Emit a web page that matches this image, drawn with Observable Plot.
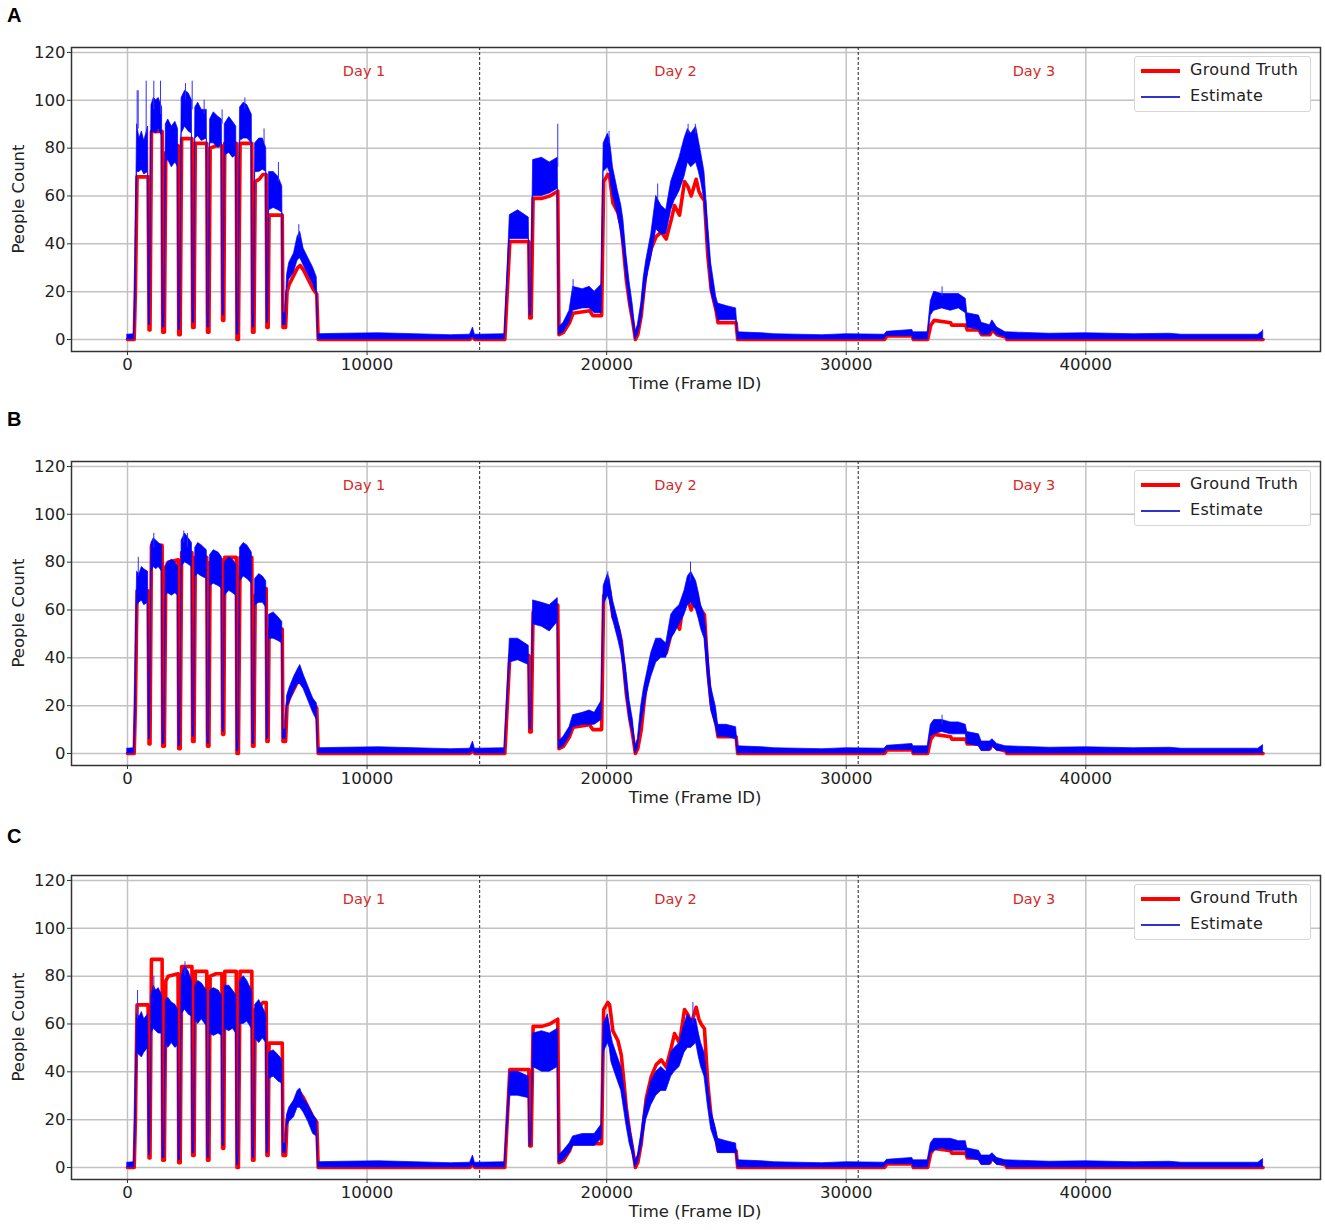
<!DOCTYPE html>
<html>
<head>
<meta charset="utf-8">
<script src="https://cdn.jsdelivr.net/npm/d3@7"></script>
<script src="https://cdn.jsdelivr.net/npm/@observablehq/plot@0.6"></script>
<style>
  body { margin: 0; background: #fff; }
  #page { position: relative; width: 1325px; height: 1230px; overflow: hidden; font-family: "DejaVu Sans", sans-serif; color: #222; }
  .panel { position: absolute; left: 0; width: 1325px; height: 414px; }
  .panel svg { position: absolute; left: 0; top: 0; }
  .letter { position: absolute; left: 7px; font: bold 20px "Liberation Sans", Arial, sans-serif; line-height: 1; color: #000; }
  .xlabel { position: absolute; left: 695px; top: 376px; transform: translateX(-50%); font-size: 16.5px; line-height: 1; white-space: nowrap; color: #222; }
  .ylabel { position: absolute; left: 18.5px; top: 199px; transform: translate(-50%, -50%) rotate(-90deg); font-size: 16.5px; line-height: 1; white-space: nowrap; color: #222; }
  .legend { position: absolute; left: 1134px; top: 56px; width: 177px; height: 56px; box-sizing: border-box; border: 1px solid #d6d6d6; border-radius: 3px; background: #fff; }
  .legend .sw { position: absolute; left: 6px; width: 39px; }
  .legend .lt { position: absolute; left: 55px; font-size: 16px; line-height: 1; letter-spacing: 0.3px; white-space: nowrap; color: #222; }
</style>
</head>
<body>
<div id="page"></div>
<script>
// ---------- data ----------
const xTicks = [0, 10000, 20000, 30000, 40000];
const yTicks = [0, 20, 40, 60, 80, 100, 120];
const dayBounds = [14700, 30500];
const dayNames = ["Day 1", "Day 2", "Day 3"];
const dayLabelX = [9875, 22875, 37833];
const dayLabelY = 112;
const panelLetters = ["A", "B", "C"];
const seriesNames = ["Ground Truth", "Estimate"];

// Ground truth [frame, count] (same in every panel)
const groundTruth = [
  [0,0],[280,0],[330,20],[400,68],[860,68],[900,4],[940,4],[1000,87],[1445,87],[1470,3],[1540,3],
  [1600,78],[1700,80],[2110,81],[2140,2],[2200,2],[2260,84],[2690,84],[2720,5],[2780,5],
  [2830,82],[3310,82],[3340,3],[3400,3],[3450,80],[3700,81],[3940,81],[3970,8],[4020,8],
  [4060,82],[4540,82],[4570,0],[4630,0],[4700,82],[5190,82],[5220,3],[5280,3],
  [5330,66],[5500,67],[5650,69],[5790,69],[5820,5],[5870,5],[5910,52],[6460,52],[6490,5],[6600,5],
  [6660,20],[6750,23],[6950,27],[7100,30],[7210,31],[7350,29],[7550,25],[7750,21],[7900,19],[7960,0],
  [14300,0],[14420,1.5],[14500,0],[15750,0],[15960,41],[16750,41],[16790,9],[16850,9],
  [16930,59],[17300,59],[17625,60],[17960,62],[18010,2],[18200,3],[18450,7],[18600,11],
  [19290,12],[19420,10],[19790,10],[19875,66],[20050,69],[20125,68],[20200,62],[20264,57],
  [20472,53],[20611,47],[20700,38],[20820,25],[20958,15],[21097,7],[21200,0],[21300,2],
  [21444,10],[21550,20],[21653,29],[21861,38],[22069,43],[22278,45],[22486,42],[22694,50],
  [22833,56],[23042,52],[23250,66],[23389,64],[23528,60],[23736,67],[23850,62],[23944,60],
  [24083,58],[24222,35],[24361,21],[24569,12],[24650,7],[25403,7],[25470,0],
  [31600,0],[31700,1.5],[32760,1.5],[32800,0],[33400,0],[33530,6],[33670,8],[34360,7],[34400,6],
  [34990,6],[35050,4],[35540,4],[35650,2],[36000,2],[36100,4],[36300,2],[36650,1],[36710,0],[47400,0]
];

// Estimate envelopes [frame, low, high]
const quietStart = [[0,0,2],[280,0,2.2],[330,10,30]];
const quietDay1 = [[7960,0,2.2],[9000,0,2.4],[10500,0,2.6],[12000,0,2.2],[13500,0,1.8],[14300,0,2],[14420,1,5],[14500,0,2],[15750,0,2.2]];
const quietDay2 = [[25470,0,3],[26500,0,2.6],[27000,0,2.2],[29000,0,1.8],[30000,0,2.2],[31600,0,2],[31700,1.5,3.2],[32760,1.5,4],[32800,0,3],[33400,0,3]];
const quietEnd = [[36710,0,3],[38500,0,2.4],[40000,0,2.6],[42000,0,2.2],[43500,0,2.4],[44000,0,2],[46000,0,2],[47200,0,2],[47400,0,3.5]];

const estDay1A = [
  [400,70,90],[500,70,84],[600,71,87],[700,69,83],[860,70,89],[900,6,12],[940,6,12],
  [1000,86,98],[1100,87,101],[1200,86,100],[1300,88,101],[1445,85,97],[1470,5,10],[1540,5,10],
  [1600,74,90],[1700,75,92],[1850,72,89],[2000,74,91],[2110,72,88],[2140,4,8],[2200,4,8],
  [2260,86,101],[2400,89,104],[2550,87,103],[2690,86,100],[2720,7,12],[2780,7,12],
  [2830,84,97],[2950,85,99],[3100,83,96],[3310,84,96],[3340,5,10],[3400,5,10],
  [3450,82,92],[3600,82,95],[3800,80,93],[3940,82,92],[3970,10,15],[4020,10,15],
  [4060,77,90],[4250,78,93],[4400,76,91],[4540,77,89],[4570,2,7],[4630,2,7],
  [4700,83,97],[4850,84,99],[5000,84,98],[5190,82,94],[5220,5,10],[5280,5,10],
  [5330,70,82],[5500,70,84],[5650,71,84],[5790,70,80],[5820,7,12],[5870,7,12],
  [5910,54,70],[6100,55,70],[6300,54,68],[6460,53,64],[6490,6,11],[6600,6,11],
  [6660,21,27],[6750,25,32],[6950,28,36],[7100,33,43],[7210,34,45],[7350,31,38],[7550,27,34],[7750,23,30],[7900,19,26]
];
const estDay2A = [
  [15960,42,52],[16300,42,54],[16750,42,51],[16790,10,13],[16850,10,13],
  [16930,60,75],[17300,60,76],[17625,61,74],[17960,63,76],
  [18010,2,5],[18200,3,7],[18450,7,12],[18600,12,22],[19000,13,21],[19290,13,22],[19500,11,20],[19790,11,23],
  [19875,70,82],[20050,72,86],[20125,70,84],[20200,64,78],[20264,60,72],[20472,52,62],[20611,44,56],
  [20700,38,50],[20820,26,36],[20958,15,24],[21097,7,14],[21200,0,3],[21300,2,6],[21444,8,15],
  [21550,16,26],[21653,24,33],[21861,34,44],[22069,46,60],[22278,44,56],[22486,44,54],[22694,54,66],
  [22833,58,70],[23042,62,76],[23250,68,84],[23389,74,88],[23528,72,86],[23736,74,89],[23850,70,83],
  [23944,66,78],[24083,58,70],[24222,38,50],[24361,20,32],[24569,12,18],[24650,8,15],[25000,8,14],[25403,8,13]
];
const estDay3A = [
  [33530,10,16],[33670,12,20],[34000,13,19],[34360,12,19],[34700,13,19],[34990,11,17],
  [35050,5,11],[35540,4,10],[35650,2,7],[36000,2,6],[36100,4,8],[36300,2,5],[36650,1,3]
];

const estDay1B = [
  [400,62,76],[500,63,75],[600,64,78],[700,62,77],[860,63,76],[900,6,12],[940,6,12],
  [1000,76,88],[1100,78,90],[1200,77,89],[1300,78,88],[1445,76,87],[1470,4,8],[1540,4,8],
  [1600,66,78],[1700,67,80],[1850,66,81],[2000,67,80],[2110,66,78],[2140,3,7],[2200,3,7],
  [2260,78,89],[2400,80,92],[2550,79,90],[2690,78,88],[2720,7,11],[2780,7,11],
  [2830,74,86],[2950,75,88],[3100,74,87],[3310,73,85],[3340,4,8],[3400,4,8],
  [3450,70,83],[3600,71,85],[3800,70,84],[3940,69,82],[3970,9,13],[4020,9,13],
  [4060,66,80],[4250,68,82],[4400,67,81],[4540,66,79],[4570,1,5],[4630,1,5],
  [4700,72,86],[4850,74,88],[5000,73,87],[5190,71,84],[5220,4,8],[5280,4,8],
  [5330,62,73],[5500,63,75],[5650,63,74],[5790,61,72],[5820,6,10],[5870,6,10],
  [5910,48,58],[6100,48,59],[6300,47,57],[6460,46,55],[6490,6,10],[6600,6,10],
  [6660,19,24],[6750,21,27],[6950,26,32],[7100,29,35],[7210,29,37],[7350,27,33],[7550,22,28],[7750,17,23],[7900,14,21]
];
const estDay2B = [
  [15960,38,48],[16300,39,48],[16750,37,45],[16790,10,13],[16850,10,13],
  [16930,54,64],[17300,53,63],[17625,51,62],[17960,55,65],
  [18010,2,5],[18200,3,7],[18450,7,11],[18600,11,16],[19000,12,17],[19290,12,18],[19500,12,17],[19790,14,22],
  [19875,62,70],[20050,66,75],[20125,64,73],[20200,60,68],[20264,56,64],[20472,48,56],[20611,42,50],
  [20700,36,44],[20820,25,35],[20958,14,22],[21097,8,14],[21200,0,3],[21300,2,6],[21444,12,20],
  [21550,18,27],[21653,24,32],[21861,32,42],[22069,38,48],[22278,40,48],[22486,40,46],[22694,48,58],
  [22833,50,60],[23042,54,62],[23250,58,68],[23389,62,74],[23528,63,76],[23736,60,72],[23850,56,67],
  [23944,52,62],[24083,48,58],[24222,32,44],[24361,18,28],[24569,11,19],[24650,7,12],[25000,7,12],[25403,6,11]
];
const estDay3B = [
  [33530,7,12],[33670,8,14],[34000,9,14],[34360,8,13],[34700,8,13],[34990,8,12],
  [35050,4,9],[35540,3,8],[35650,1,5],[36000,1,5],[36100,3,6],[36300,1,4],[36650,1,3]
];

const estDay1C = [
  [400,48,64],[500,47,63],[600,46,65],[700,48,62],[860,50,64],[900,5,10],[940,5,10],
  [1000,56,72],[1100,58,76],[1200,57,74],[1300,56,75],[1445,56,72],[1470,4,8],[1540,4,8],
  [1600,52,70],[1700,50,71],[1850,52,69],[2000,50,68],[2110,51,66],[2140,3,7],[2200,3,7],
  [2260,64,80],[2400,66,84],[2550,64,82],[2690,63,78],[2720,6,10],[2780,6,10],
  [2830,62,76],[2950,60,78],[3100,62,77],[3310,59,74],[3340,4,8],[3400,4,8],
  [3450,56,74],[3600,55,75],[3800,56,74],[3940,55,72],[3970,9,13],[4020,9,13],
  [4060,58,76],[4250,57,76],[4400,58,74],[4540,56,72],[4570,1,5],[4630,1,5],
  [4700,60,78],[4850,60,80],[5000,61,78],[5190,58,74],[5220,4,8],[5280,4,8],
  [5330,54,68],[5500,52,70],[5650,54,67],[5790,52,64],[5820,6,10],[5870,6,10],
  [5910,37,48],[6100,38,49],[6300,36,47],[6460,35,45],[6490,6,10],[6600,6,10],
  [6660,17,22],[6750,19,25],[6950,21,28],[7100,25,32],[7210,25,33],[7350,23,29],[7550,19,26],[7750,14,22],[7900,13,20]
];
const estDay2C = [
  [15960,30,40],[16300,30,40],[16750,29,38],[16790,9,12],[16850,9,12],
  [16930,42,56],[17300,40,57],[17625,40,56],[17960,42,58],
  [18010,2,5],[18200,3,7],[18450,6,10],[18600,9,13],[19000,9,14],[19290,9,14],[19500,9,14],[19790,12,18],
  [19875,48,60],[20050,52,64],[20125,50,60],[20200,44,55],[20264,42,52],[20472,36,46],[20611,32,42],
  [20700,26,36],[20820,18,28],[20958,10,18],[21097,5,10],[21200,0,3],[21300,2,5],[21444,8,14],
  [21550,14,22],[21653,20,28],[21861,26,36],[22069,30,40],[22278,32,42],[22486,32,40],[22694,38,48],
  [22833,40,50],[23042,42,52],[23250,48,60],[23389,50,64],[23528,50,62],[23736,52,62],[23850,46,56],
  [23944,42,52],[24083,38,48],[24222,26,36],[24361,16,24],[24569,10,16],[24650,6,12],[25000,6,11],[25403,6,10]
];
const estDay3C = [
  [33530,6,10],[33670,7,12],[34000,8,12],[34360,7,12],[34700,7,11],[34990,7,11],
  [35050,4,8],[35540,3,7],[35650,1,5],[36000,1,5],[36100,3,6],[36300,1,4],[36650,1,3]
];

// Tall estimate spikes [frame, from, to]
const spikesA = [[404,88,104],[446,88,104],[780,86,108],[1099,96,108],[1377,94,108],[2420,100,107],[2700,96,108],
  [3200,94,100],[3950,90,96],[4900,96,101],[5700,82,88],[6300,66,74],[7150,42,48],[17960,72,90],[18600,20,25],
  [20100,82,87],[22130,58,65],[23400,86,90],[23700,86,90],[34000,18,22],[47380,1,4]];
const spikesB = [[450,74,82],[1099,86,92],[2350,88,93],[2500,86,92],[20050,72,76],[23500,72,80],[34000,12,16]];
const spikesC = [[420,62,74],[1100,74,80],[2400,80,86],[23600,60,69]];

// ---------- drawing ----------
const estimates = [
  [...quietStart, ...estDay1A, ...quietDay1, ...estDay2A, ...quietDay2, ...estDay3A, ...quietEnd],
  [...quietStart, ...estDay1B, ...quietDay1, ...estDay2B, ...quietDay2, ...estDay3B, ...quietEnd],
  [...quietStart, ...estDay1C, ...quietDay1, ...estDay2C, ...quietDay2, ...estDay3C, ...quietEnd]
];
const spikes = [spikesA, spikesB, spikesC];
const letterTops = [5, 409, 826];

const page = document.getElementById("page");
const RED = "#ff0000", BLUE = "#0000ff";

panelLetters.forEach((letter, p) => {
  const panel = document.createElement("div");
  panel.className = "panel";
  panel.style.top = (p * 414) + "px";

  const svg = Plot.plot({
    width: 1325, height: 414,
    marginLeft: 71, marginRight: 5, marginTop: 47, marginBottom: 63,
    x: {domain: [-2337, 49796]},
    y: {domain: [-5.02, 122.08]},
    style: {fontFamily: "'DejaVu Sans', sans-serif", fontSize: "16.5px", color: "#222", background: "transparent"},
    marks: [
      Plot.gridX(xTicks, {stroke: "#c2c2c2", strokeOpacity: 1, strokeWidth: 1.5}),
      Plot.gridY(yTicks, {stroke: "#c2c2c2", strokeOpacity: 1, strokeWidth: 1.5}),
      Plot.ruleX(dayBounds, {stroke: "#222", strokeWidth: 1, strokeDasharray: "3,2"}),
      Plot.line(groundTruth, {x: d => d[0], y: d => d[1], stroke: RED, strokeWidth: 3.6, strokeLinejoin: "round"}),
      Plot.areaY(estimates[p], {x: d => d[0], y1: d => d[1], y2: d => d[2], fill: BLUE, stroke: BLUE, strokeWidth: 0.7}),
      Plot.ruleX(spikes[p], {x: d => d[0], y1: d => d[1], y2: d => d[2], stroke: "#3030ff", strokeWidth: 1}),
      Plot.text(dayNames, {x: (d, i) => dayLabelX[i], y: () => dayLabelY, text: d => d, fill: "#d42a2a", fontSize: 14.5}),
      Plot.frame({stroke: "#333", strokeWidth: 1.5}),
      Plot.axisX(xTicks, {tickFormat: d => String(d), tickSize: 4, tickPadding: 3, label: null, stroke: "#333"}),
      Plot.axisY(yTicks, {tickSize: 4, tickPadding: 2, label: null, stroke: "#333"})
    ]
  });
  panel.appendChild(svg);

  const xl = document.createElement("div"); xl.className = "xlabel"; xl.textContent = "Time (Frame ID)"; panel.appendChild(xl);
  const yl = document.createElement("div"); yl.className = "ylabel"; yl.textContent = "People Count"; panel.appendChild(yl);

  const lg = document.createElement("div"); lg.className = "legend";
  const s1 = document.createElement("div"); s1.className = "sw"; s1.style.top = "12px"; s1.style.height = "4px"; s1.style.background = RED; lg.appendChild(s1);
  const t1 = document.createElement("div"); t1.className = "lt"; t1.style.top = "5px"; t1.textContent = seriesNames[0]; lg.appendChild(t1);
  const s2 = document.createElement("div"); s2.className = "sw"; s2.style.top = "39px"; s2.style.height = "1.5px"; s2.style.background = "#3232c8"; lg.appendChild(s2);
  const t2 = document.createElement("div"); t2.className = "lt"; t2.style.top = "31px"; t2.textContent = seriesNames[1]; lg.appendChild(t2);
  panel.appendChild(lg);

  page.appendChild(panel);

  const L = document.createElement("div"); L.className = "letter"; L.style.top = letterTops[p] + "px"; L.textContent = letter;
  page.appendChild(L);
});
</script>
</body>
</html>
